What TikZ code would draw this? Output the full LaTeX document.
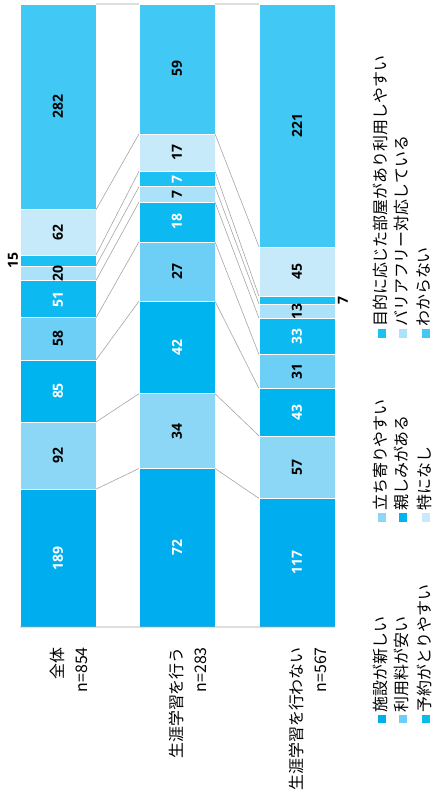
\documentclass[tikz,border=0pt]{standalone}
\usepackage{fontspec}
\newfontfamily\jpfont{Noto Sans CJK JP}
\newfontfamily\numfont{Open Sans}

\definecolor{cNew}{HTML}{00AEEF}
\definecolor{cStop}{HTML}{8DD7F6}
\definecolor{cFam}{HTML}{00B4EF}
\definecolor{cFee}{HTML}{6DCFF6}
\definecolor{cBook}{HTML}{0CBAF1}
\definecolor{cBarrier}{HTML}{ACE1FA}
\definecolor{cRoom}{HTML}{1CC0F2}
\definecolor{cNone}{HTML}{C7EAFA}
\definecolor{cUnk}{HTML}{41C8F4}
\definecolor{cLine}{HTML}{A5A5A5}

\tikzset{
seg/.style={rectangle,draw=white,line width=0.5bp,minimum width=76bp,inner sep=0pt,outer sep=0pt},
num/.style={rotate=90,inner sep=0pt,font=\numfont\bfseries\fontsize{14}{14}\selectfont},
wnum/.style={num,text=white},
sline/.style={draw=cLine,line width=0.6bp},
key/.style={rectangle,minimum size=8.5bp,inner sep=0pt},
keytext/.style={rotate=90,anchor=west,inner sep=0pt,font=\jpfont\fontsize{16}{16}\selectfont},
cat/.style={rotate=90,anchor=east,align=right,inner sep=0pt,font=\jpfont\fontsize{16}{24}\selectfont}
}

\begin{document}
\begin{tikzpicture}[x=1bp,y=-1bp]
\useasboundingbox (0,0) rectangle (432,796);

% 全体
\node[seg,fill=cNew,minimum height=137.88bp](a1) at (58,558.06){};
\node[seg,fill=cStop,minimum height=67.11bp](a2) at (58,455.57){};
\node[seg,fill=cFam,minimum height=62.01bp](a3) at (58,391.00){};
\node[seg,fill=cFee,minimum height=42.31bp](a4) at (58,338.85){};
\node[seg,fill=cBook,minimum height=37.21bp](a5) at (58,299.09){};
\node[seg,fill=cBarrier,minimum height=14.59bp](a6) at (58,273.19){};
\node[seg,fill=cRoom,minimum height=10.94bp](a7) at (58,260.42){};
\node[seg,fill=cNone,minimum height=45.23bp](a8) at (58,232.34){};
\node[seg,fill=cUnk,minimum height=205.72bp](a9) at (58,106.86){};
\node[wnum](a1n) at (a1){189};
\node[num](a2n) at (a2){92};
\node[wnum](a3n) at (a3){85};
\node[num](a4n) at (a4){58};
\node[wnum](a5n) at (a5){51};
\node[num](a6n) at (a6){20};
\node[num](a7n) at (13,260.42){15};
\node[num](a8n) at (a8){62};
\node[num](a9n) at (a9){282};

% 生涯学習を行う
\node[seg,fill=cNew,minimum height=158.50bp](b1) at (177,547.75){};
\node[seg,fill=cStop,minimum height=74.85bp](b2) at (177,431.08){};
\node[seg,fill=cFam,minimum height=92.46bp](b3) at (177,347.42){};
\node[seg,fill=cFee,minimum height=59.44bp](b4) at (177,271.47){};
\node[seg,fill=cBook,minimum height=39.62bp](b5) at (177,221.94){};
\node[seg,fill=cBarrier,minimum height=15.41bp](b6) at (177,194.43){};
\node[seg,fill=cRoom,minimum height=15.41bp](b7) at (177,179.02){};
\node[seg,fill=cNone,minimum height=37.43bp](b8) at (177,152.60){};
\node[seg,fill=cUnk,minimum height=129.88bp](b9) at (177,68.94){};
\node[wnum](b1n) at (b1){72};
\node[num](b2n) at (b2){34};
\node[wnum](b3n) at (b3){42};
\node[num](b4n) at (b4){27};
\node[wnum](b5n) at (b5){18};
\node[num](b6n) at (b6){7};
\node[wnum](b7n) at (b7){7};
\node[num](b8n) at (b8){17};
\node[num](b9n) at (b9){59};

% 生涯学習を行わない
\node[seg,fill=cNew,minimum height=128.56bp](c1) at (297,562.72){};
\node[seg,fill=cStop,minimum height=62.63bp](c2) at (297,467.13){};
\node[seg,fill=cFam,minimum height=47.24bp](c3) at (297,412.19){};
\node[seg,fill=cFee,minimum height=34.06bp](c4) at (297,371.54){};
\node[seg,fill=cBook,minimum height=36.26bp](c5) at (297,336.38){};
\node[seg,fill=cBarrier,minimum height=14.29bp](c6) at (297,311.11){};
\node[seg,fill=cRoom,minimum height=7.69bp](c7) at (297,300.12){};
\node[seg,fill=cNone,minimum height=49.44bp](c8) at (297,271.55){};
\node[seg,fill=cUnk,minimum height=242.83bp](c9) at (297,125.42){};
\node[wnum](c1n) at (c1){117};
\node[num](c2n) at (c2){57};
\node[wnum](c3n) at (c3){43};
\node[num](c4n) at (c4){31};
\node[wnum](c5n) at (c5){33};
\node[num](c6n) at (c6){13};
\node[num](c7n) at (343,300.12){7};
\node[num](c8n) at (c8){45};
\node[num](c9n) at (c9){221};

\path
(a1.north east) edge[sline] (b1.north west)
(a2.north east) edge[sline] (b2.north west)
(a3.north east) edge[sline] (b3.north west)
(a4.north east) edge[sline] (b4.north west)
(a5.north east) edge[sline] (b5.north west)
(a6.north east) edge[sline] (b6.north west)
(a7.north east) edge[sline] (b7.north west)
(a8.north east) edge[sline] (b8.north west)
(a9.north east) edge[sline] (b9.north west)
(b1.north east) edge[sline] (c1.north west)
(b2.north east) edge[sline] (c2.north west)
(b3.north east) edge[sline] (c3.north west)
(b4.north east) edge[sline] (c4.north west)
(b5.north east) edge[sline] (c5.north west)
(b6.north east) edge[sline] (c6.north west)
(b7.north east) edge[sline] (c7.north west)
(b8.north east) edge[sline] (c8.north west)
(b9.north east) edge[sline] (c9.north west)
(a1.south west) edge[sline,line width=0.9bp] (c1.south east);

% category labels
\node[cat](all) at (68.5,647){全体\\n=854};
\node[cat](yes) at (187.5,647){生涯学習を行う\\n=283};
\node[cat](no) at (307.5,647){生涯学習を行わない\\n=567};

% legend
\node[key,fill=cNew](k1) at (382,719){};
\node[key,fill=cFee](k2) at (403,719){};
\node[key,fill=cBook](k3) at (426,719){};
\node[key,fill=cStop](k4) at (382,517.5){};
\node[key,fill=cFam](k5) at (403,517.5){};
\node[key,fill=cNone](k6) at (426,517.5){};
\node[key,fill=cRoom](k7) at (382,333.5){};
\node[key,fill=cBarrier](k8) at (403,333.5){};
\node[key,fill=cUnk](k9) at (426,333.5){};
\node[keytext](k1t) at (380,712.5){施設が新しい};
\node[keytext](k2t) at (401,712.5){利用料が安い};
\node[keytext](k3t) at (424,712.5){予約がとりやすい};
\node[keytext](k4t) at (380,511){立ち寄りやすい};
\node[keytext](k5t) at (401,511){親しみがある};
\node[keytext](k6t) at (424,511){特になし};
\node[keytext](k7t) at (380,327){目的に応じた部屋があり利用しやすい};
\node[keytext](k8t) at (401,327){バリアフリー対応している};
\node[keytext](k9t) at (424,327){わからない};
\end{tikzpicture}
\end{document}
